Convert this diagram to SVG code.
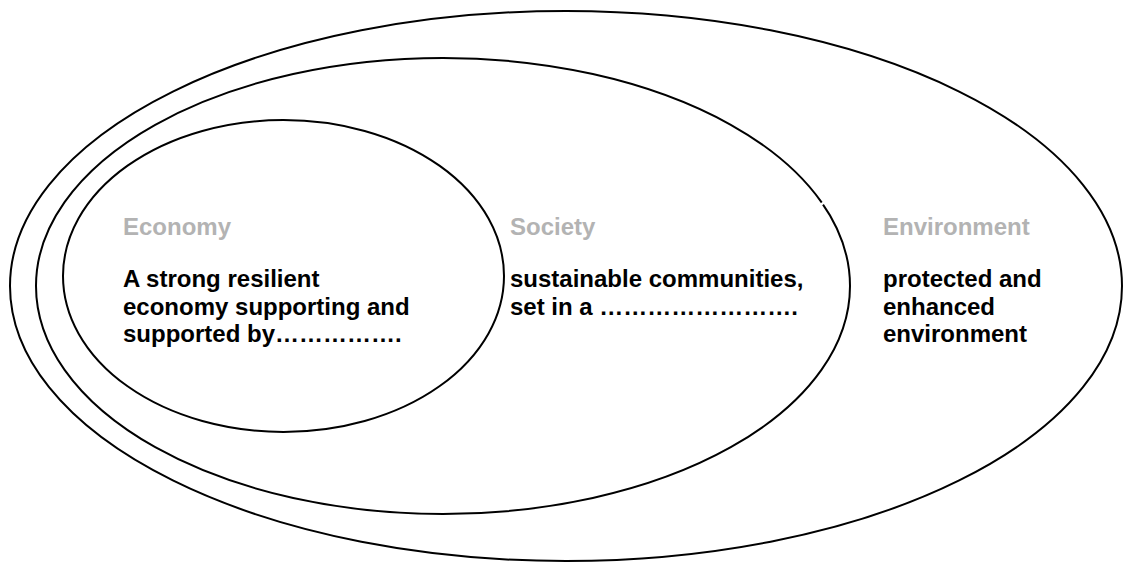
<svg xmlns="http://www.w3.org/2000/svg" width="1123" height="563" viewBox="0 0 1123 563">
<style>
.ring{fill:none;stroke:#000;stroke-width:2}
.head{font-family:"Liberation Sans",Arial,sans-serif;font-weight:bold;font-size:24px;fill:#b3b3b3}
.body{font-family:"Liberation Sans",Arial,sans-serif;font-weight:bold;font-size:24px;fill:#000}
</style>
<rect width="1123" height="563" fill="#fff"/>
<g id="environment">
<ellipse class="ring" cx="566" cy="286" rx="556" ry="275"/>
<text class="head" x="883" y="235">Environment</text>
<text class="body" x="883" y="287">protected and</text>
<text class="body" x="883" y="315">enhanced</text>
<text class="body" x="883" y="342">environment</text>
</g>
<g id="society">
<ellipse class="ring" cx="443" cy="286" rx="407" ry="228"/>
<line x1="819" y1="206" x2="826" y2="201" stroke="#fff" stroke-width="2.5"/>
<text class="head" x="510" y="235">Society</text>
<text class="body" x="510" y="287">sustainable communities,</text>
<text class="body" x="510" y="315">set in a &#8230;&#8230;&#8230;&#8230;&#8230;&#8230;&#8230;&#8230;.</text>
</g>
<g id="economy">
<ellipse class="ring" cx="283.5" cy="276" rx="220.5" ry="156"/>
<text class="head" x="123" y="235">Economy</text>
<text class="body" x="123" y="287">A strong resilient</text>
<text class="body" x="123" y="315">economy supporting and</text>
<text class="body" x="123" y="342">supported by&#8230;&#8230;&#8230;&#8230;&#8230;.</text>
</g>
<g id="connectors"></g>
</svg>
